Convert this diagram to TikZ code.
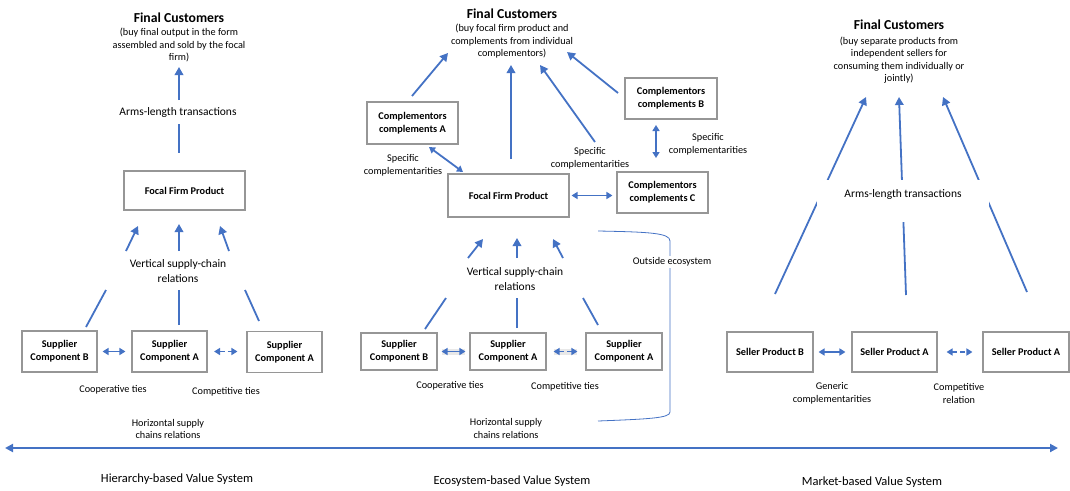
\documentclass[tikz,border=0pt]{standalone}
\usepackage{fontspec}
\setmainfont{Carlito}
\usetikzlibrary{arrows.meta}
\definecolor{arrowblue}{RGB}{68,114,196}
\definecolor{boxgray}{RGB}{150,150,150}

\begin{document}
\begin{tikzpicture}[x=1pt, y=-1pt,
  box/.style={rectangle, draw=boxgray, line width=1.1pt, fill=white, align=center, inner sep=0pt,
    font=\fontsize{10.3}{12.7}\selectfont\bfseries},
  txt/.style={align=center, inner sep=0pt, font=\fontsize{10.25}{12.5}\selectfont},
  midtxt/.style={align=center, inner sep=0pt, font=\fontsize{11.5}{15}\selectfont},
  title/.style={inner sep=0pt, font=\fontsize{13.7}{15}\selectfont\bfseries},
  link/.style={arrowblue, line width=1.8pt},
  flow/.style={link, -{Triangle[length=8pt,width=8.5pt]}},
  twoway/.style={link, {Triangle[length=6pt,width=7pt]}-{Triangle[length=6pt,width=7pt]}},
  rival/.style={twoway, dash pattern=on 5pt off 3pt},
  glow/.style={preaction={draw=gray, line width=6pt, opacity=0.18, -}}]
  \useasboundingbox (0,0) rectangle (1070,490);

  % Hierarchy-based
  \node[title] (fcLt) at (179,18) {Final Customers};
  \node[txt] (fcL) at (179,45) {(buy final output in the form\\assembled and sold by the focal\\firm)};
  \node[midtxt] (armsL) at (178,112) {Arms-length transactions};
  \node[box, minimum width=121pt, minimum height=39pt] (focalL) at (184.5,190.5) {Focal Firm Product};
  \node[midtxt] (vertL) at (178,271.5) {Vertical supply-chain\\relations};
  \node[box, minimum width=75pt, minimum height=41pt] (supBL) at (59.5,351.5) {Supplier\\Component B};
  \node[box, minimum width=75pt, minimum height=41pt] (supAL) at (169.5,351.5) {Supplier\\Component A};
  \node[box, minimum width=75pt, minimum height=41pt] (supCL) at (284.5,352) {Supplier\\Component A};
  \node[txt] (coopL) at (113,390) {Cooperative ties};
  \node[txt] (compL) at (226,392) {Competitive ties};
  \node[txt] (horL) at (168,429) {Horizontal supply\\chains relations};

  \draw[flow] (179,100) -- (179,67);
  \draw[link] (179,124) -- (179,153);
  \draw[flow] (126,251) -- (138,226);
  \draw[flow] (179,251) -- (179,224);
  \draw[flow] (229,251) -- (220,226);
  \draw[link] (86,327) -- (106,290);
  \draw[link] (179,325) -- (179,290);
  \draw[link] (259,321) -- (245,290);
  \draw[twoway, shorten <=5pt, shorten >=6pt] (supBL) -- (supAL);
  \draw[rival, shorten <=6.5pt, shorten >=9pt] (supAL) -- (supCL.west |- supAL.east);

  % Ecosystem-based
  \node[title] (fcMt) at (512,14) {Final Customers};
  \node[txt] (fcM) at (512,41.5) {(buy focal firm product and\\complements from individual\\complementors)};
  \node[box, minimum width=91pt, minimum height=42pt] (compA) at (412.5,123) {Complementors\\complements A};
  \node[box, minimum width=92pt, minimum height=41pt] (compB) at (671,98.5) {Complementors\\complements B};
  \node[box, minimum width=121pt, minimum height=43pt] (focalM) at (508.5,195.5) {Focal Firm Product};
  \node[box, minimum width=91pt, minimum height=41pt] (compC) at (662.5,192.5) {Complementors\\complements C};
  \node[txt] (specA) at (403,165.5) {Specific\\complementarities};
  \node[txt] (specM) at (590,158.5) {Specific\\complementarities};
  \node[txt] (specB) at (708,144.5) {Specific\\complementarities};
  \node[midtxt] (vertM) at (515,279.5) {Vertical supply-chain\\relations};
  \node[box, minimum width=76pt, minimum height=37pt] (supBM) at (399,351.5) {Supplier\\Component B};
  \node[box, minimum width=76pt, minimum height=37pt] (supAM) at (508,351.5) {Supplier\\Component A};
  \node[box, minimum width=76pt, minimum height=37pt] (supCM) at (624,351.5) {Supplier\\Component A};
  \node[txt] (coopM) at (450,386) {Cooperative ties};
  \node[txt] (compM) at (565,387) {Competitive ties};
  \node[txt] (horM) at (506,428.5) {Horizontal supply\\chains relations};

  \draw[flow] (412,96) -- (448,53);
  \draw[flow] (511,159) -- (511,65);
  \draw[flow] (595,142) -- (540,65);
  \draw[flow] (618,93) -- (567,52);
  \draw[twoway] (429,147) -- (463,172);
  \draw[twoway, shorten <=2pt, shorten >=4pt] (focalM.east) -- (focalM.east -| compC.west);
  \coordinate (bcTop) at (656,125);
  \coordinate (bcBot) at (656,158);
  \draw[twoway] (bcTop) -- (bcBot);
  \draw[flow] (468,258) -- (483,239);
  \draw[flow] (517,258) -- (517,238);
  \draw[flow] (563,258) -- (553,239);
  \draw[link] (425,329) -- (446,298);
  \draw[link] (517,328) -- (517,298);
  \draw[link] (598,325) -- (583,298);
  \draw[twoway, glow, shorten <=4pt, shorten >=4pt] (supBM) -- (supAM);
  \draw[rival, glow, shorten <=7pt, shorten >=8pt] (supAM) -- (supCM);
  \draw[arrowblue, line width=0.8pt] (598,231) .. controls (650,232) and (670,233) .. (670,241)
    -- (670,412) .. controls (670,418) and (650,419) .. (598,421);
  \node[txt, fill=white, inner sep=2pt] (outside) at (672,262) {Outside ecosystem};

  % Market-based
  \node[title] (fcRt) at (899,25) {Final Customers};
  \node[txt] (fcR) at (899,60) {(buy separate products from\\independent sellers for\\consuming them individually or\\jointly)};
  \draw[flow] (775,294) -- (866,97);
  \draw[flow] (906,295) -- (899,97);
  \draw[flow] (1027,292) -- (943,97);
  \node[midtxt, fill=white, text height=17pt, text depth=25pt, minimum width=172pt, anchor=base] (armsR) at (903,197) {Arms-length transactions};
  \node[box, minimum width=86pt, minimum height=40pt] (selB) at (770,352) {Seller Product B};
  \node[box, minimum width=85pt, minimum height=40pt] (selA) at (894.5,352) {Seller Product A};
  \node[box, minimum width=86pt, minimum height=40pt] (selC) at (1026,352) {Seller Product A};
  \draw[twoway, shorten <=5pt, shorten >=6pt] (selB) -- (selA);
  \draw[rival, shorten <=9pt, shorten >=10pt] (selA) -- (selC);
  \node[txt] (genR) at (832,393.5) {Generic\\complementarities};
  \node[txt] (compR) at (959,393.5) {Competitive\\relation};

  % value system axis
  \coordinate (axisL) at (5,448);
  \coordinate (axisR) at (1058,448);
  \draw[arrowblue, line width=2.2pt, {Triangle[length=8pt,width=8pt]}-{Triangle[length=8pt,width=8pt]}] (axisL) -- (axisR);
  \node[midtxt, font=\fontsize{12.5}{14}\selectfont] (hier) at (177,479) {Hierarchy-based Value System};
  \node[midtxt, font=\fontsize{12.5}{14}\selectfont] (eco) at (512,481) {Ecosystem-based Value System};
  \node[midtxt, font=\fontsize{12.5}{14}\selectfont] (mkt) at (872,482) {Market-based Value System};
\end{tikzpicture}
\end{document}
